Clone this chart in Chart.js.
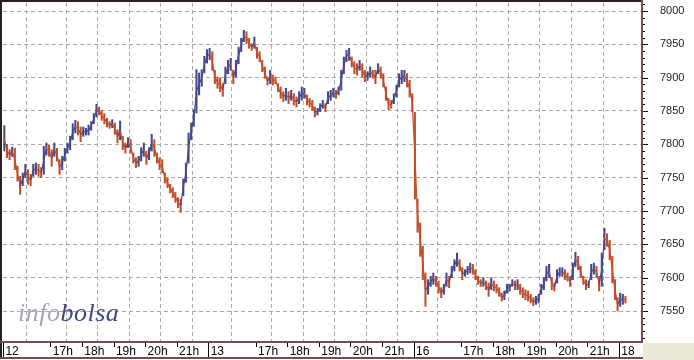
<!DOCTYPE html>
<html>
<head>
<meta charset="utf-8">
<style>
  html, body { margin: 0; padding: 0; background: #fff; }
  #wrap { position: relative; width: 694px; height: 360px; }
  #mark { position: absolute; left: 18px; top: 300px; font: italic 26px "Liberation Serif", serif; line-height: 26px; letter-spacing: 0.5px; }
  #mark .info { color: #a2a6b9; }
  #mark .bolsa { color: #3d4a82; }
</style>
<script src="https://cdn.jsdelivr.net/npm/chart.js@4/dist/chart.umd.min.js"></script>
</head>
<body>
<div id="wrap">
  <canvas id="chart" width="694" height="360"></canvas>
  <div id="mark"><span class="info">info</span><span class="bolsa">bolsa</span></div>
</div>
<script>
// sessions shown (day of month) and the hourly marks inside each session (opens 15:30)
const sessions = ['12', '13', '16', '18'];
const hourLabels = ['17h', '18h', '19h', '20h', '21h'];
const hourMinutes = [90, 150, 210, 270, 330];
const sessionLength = 390;   // minutes per session
const barMinutes = 5;

// 5-minute bars: [low, high]
const day12 = [
  [7790,7828],[7780,7800],[7777,7792],[7782,7796],[7762,7794],[7745,7767],[7725,7752],[7738,7757],
  [7750,7770],[7740,7762],[7738,7755],[7752,7770],[7755,7772],[7752,7770],[7750,7765],[7755,7797],
  [7784,7802],[7782,7799],[7767,7792],[7782,7802],[7775,7794],[7755,7777],[7762,7782],[7775,7794],
  [7787,7802],[7792,7812],[7807,7831],[7817,7836],[7814,7834],[7804,7826],[7812,7826],[7814,7824],
  [7814,7829],[7821,7834],[7831,7846],[7841,7860],[7844,7856],[7836,7851],[7831,7846],[7826,7839],
  [7824,7834],[7825,7837],[7815,7832],[7802,7822],[7807,7835],[7792,7812],[7787,7802],[7795,7810],
  [7787,7807],[7772,7787],[7765,7780],[7767,7782],[7775,7795],[7782,7802],[7770,7790],[7777,7795],
  [7790,7815],[7782,7807],[7772,7787],[7762,7780],[7757,7777],[7742,7757],[7735,7750],[7727,7740],
  [7720,7735],[7713,7728],[7705,7720],[7698,7718],[7723,7748],[7743,7772],[7772,7817],[7807,7832],
  [7827,7852],[7847,7912],[7874,7907],[7887,7912],[7907,7932],[7922,7942]
];
const day13 = [
  [7927,7944],[7911,7939],[7891,7911],[7884,7901],[7879,7899],[7872,7891],[7891,7916],[7906,7926],
  [7911,7929],[7891,7911],[7901,7926],[7921,7946],[7939,7959],[7954,7971],[7951,7969],[7944,7959],
  [7941,7951],[7944,7961],[7929,7946],[7924,7939],[7909,7926],[7899,7916],[7889,7901],[7891,7911],
  [7889,7904],[7891,7901],[7879,7891],[7869,7886],[7864,7879],[7866,7884],[7861,7879],[7866,7881],
  [7859,7876],[7856,7871],[7861,7879],[7866,7886],[7869,7884],[7859,7874],[7856,7869],[7851,7866],
  [7841,7856],[7844,7854],[7849,7861],[7854,7866],[7849,7861],[7861,7879],[7866,7881],[7871,7884],
  [7869,7881],[7874,7886],[7881,7911],[7906,7931],[7924,7941],[7926,7944],[7916,7931],[7906,7924],
  [7904,7921],[7911,7926],[7901,7921],[7894,7911],[7896,7909],[7901,7916],[7899,7911],[7891,7911],
  [7906,7921],[7899,7916],[7886,7906],[7866,7886],[7852,7869],[7854,7866],[7861,7876],[7871,7889],
  [7886,7906],[7891,7911],[7894,7911],[7886,7906],[7871,7896],[7849,7876]
];
const day16 = [
  [7718,7848],[7668,7718],[7632,7682],[7597,7647],[7557,7607],[7575,7597],[7587,7602],[7590,7607],
  [7587,7602],[7577,7595],[7570,7585],[7575,7590],[7587,7607],[7585,7602],[7600,7617],[7610,7627],
  [7617,7637],[7610,7627],[7597,7615],[7602,7612],[7605,7617],[7607,7622],[7605,7620],[7597,7612],
  [7590,7602],[7587,7597],[7587,7600],[7582,7595],[7572,7592],[7582,7600],[7580,7595],[7577,7590],
  [7572,7585],[7565,7577],[7567,7580],[7577,7590],[7580,7590],[7587,7597],[7582,7595],[7582,7597],
  [7575,7590],[7570,7585],[7567,7582],[7565,7580],[7562,7575],[7558,7570],[7560,7572],[7562,7575],
  [7575,7590],[7582,7600],[7595,7617],[7600,7620],[7582,7600],[7580,7592],[7592,7612],[7602,7615],
  [7602,7615],[7597,7612],[7595,7607],[7587,7602],[7597,7622],[7617,7638],[7612,7632],[7600,7617],
  [7590,7602],[7582,7597],[7585,7595],[7597,7620],[7605,7622],[7600,7617],[7580,7602],[7587,7637],
  [7642,7674],[7647,7666],[7627,7656],[7592,7632],[7567,7597],[7550,7570]
];
const day18 = [[7557,7577],[7560,7575],[7562,7572]];
const sessionBars = [day12, day13, day16, day18];

const yMin = 7505, yMax = 8012;
const UP = '#45498c', DOWN = '#c04e2a';

// build points on a continuous "trading minutes" axis
const points = [];
const mids = [];
const colors = [];
let prevMid = null;
sessionBars.forEach((bars, s) => {
  bars.forEach((r, i) => {
    const x = s * sessionLength + i * barMinutes + barMinutes / 2;
    const mid = (r[0] + r[1]) / 2;
    points.push({ x, y: r });
    mids.push({ x, y: mid });
    colors.push(prevMid === null || mid >= prevMid ? UP : DOWN);
    prevMid = mid;
  });
});

// x ticks: session opens and hourly marks
const xTickValues = [], xTickText = [], xTickIsDay = [];
sessions.forEach((d, s) => {
  xTickValues.push(s * sessionLength); xTickText.push('\u2009' + d); xTickIsDay.push(true);
  if (s < sessions.length - 1) {
    hourMinutes.forEach((m, h) => {
      xTickValues.push(s * sessionLength + m); xTickText.push('\u2009' + hourLabels[h]); xTickIsDay.push(false);
    });
  }
});

const BROWN = '#7b4a4a';

const framePlugin = {
  id: 'frame',
  beforeDraw(chart) {
    const c = chart.ctx;
    c.save();
    c.fillStyle = '#fff';
    c.fillRect(0, 0, chart.width, chart.height);
    c.restore();
  },
  afterDraw(chart) {
    const c = chart.ctx;
    const x = chart.scales.x, y = chart.scales.y;
    const a = chart.chartArea;
    c.save();
    // borders
    c.fillStyle = '#2b1f1f';
    c.fillRect(0, 0, a.right + 1, 2);
    c.fillRect(0, 0, 2, 359);
    c.fillStyle = BROWN;
    c.fillRect(a.right, 0, 2, a.bottom + 2);
    c.fillRect(0, a.bottom, a.right + 2, 2);
    c.fillRect(0, 357, a.right + 2, 2);
    c.fillStyle = '#ece9d8';
    c.fillRect(a.right + 2, a.bottom + 2, chart.width - a.right - 2, chart.height - a.bottom - 2);
    // x tick marks
    c.fillStyle = '#000';
    xTickValues.forEach((v, i) => {
      const px = Math.round(x.getPixelForValue(v));
      if (xTickIsDay[i]) c.fillRect(px, a.bottom + 2, 1, 355 - a.bottom);
      else c.fillRect(px, a.bottom + 2, 1, 4);
    });
    // y tick marks (major every 50, minor every 10)
    for (let v = 7510; v <= 8010; v += 10) {
      const py = Math.round(y.getPixelForValue(v));
      c.fillRect(a.right + 2, py, v % 50 === 0 ? 5 : 2, 1);
    }
    c.restore();
  }
};

new Chart(document.getElementById('chart'), {
  data: {
    datasets: [{
      type: 'line',
      data: mids,
      borderWidth: 1.2,
      pointRadius: 0,
      tension: 0,
      segment: { borderColor: ctx => (ctx.p1.parsed.y >= ctx.p0.parsed.y ? UP : DOWN) },
      borderColor: DOWN,
      order: 1
    }, {
      type: 'bar',
      data: points,
      backgroundColor: colors,
      borderWidth: 0,
      barThickness: 1.4,
      grouped: false,
      order: 2
    }]
  },
  options: {
    responsive: false,
    animation: false,
    events: [],
    layout: { padding: { left: 3, top: 3, right: 0, bottom: 0 } },
    plugins: { legend: { display: false }, tooltip: { enabled: false } },
    scales: {
      x: {
        type: 'linear',
        min: 0,
        max: 1212,
        offset: false,
        afterBuildTicks(scale) { scale.ticks = xTickValues.map(v => ({ value: v })); },
        afterFit(scale) { scale.height = 19; scale.paddingLeft = 0; scale.paddingRight = 0; },
        ticks: {
          autoSkip: false,
          maxRotation: 0,
          align: 'start',
          padding: 3,
          color: '#000',
          font: { family: '"Liberation Sans", Arial, sans-serif', size: 12 },
          callback: (v, i) => xTickText[i]
        },
        grid: {
          drawTicks: false,
          color: ctx => (ctx.tick && ctx.tick.value > 0 ? '#a9a9a9' : 'rgba(0,0,0,0)'),
          lineWidth: 1
        },
        border: { display: false, dash: [4, 3] }
      },
      y: {
        position: 'right',
        min: yMin,
        max: yMax,
        afterFit(scale) { scale.width = 53; scale.paddingTop = 0; scale.paddingBottom = 0; },
        ticks: {
          stepSize: 10,
          autoSkip: false,
          crossAlign: 'near',
          padding: 19,
          color: '#222',
          font: { family: '"Liberation Sans", Arial, sans-serif', size: 11 },
          callback: v => (v % 50 === 0 ? String(v) : '')
        },
        grid: {
          drawTicks: false,
          color: ctx => (ctx.tick && ctx.tick.value % 50 === 0 ? '#a9a9a9' : 'rgba(0,0,0,0)'),
          lineWidth: 1
        },
        border: { display: false, dash: [4, 3] }
      }
    }
  },
  plugins: [framePlugin]
});
</script>
</body>
</html>
